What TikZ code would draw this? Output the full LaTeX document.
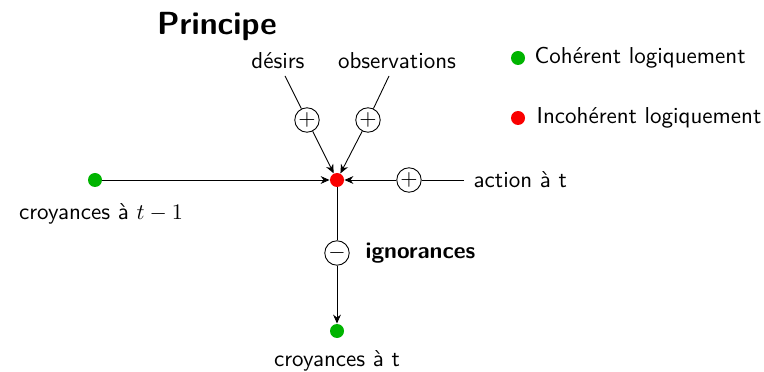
\documentclass[tikz,border=0pt]{standalone}
\usetikzlibrary{arrows.meta}
\definecolor{cgreen}{RGB}{0,180,0}
\definecolor{cred}{RGB}{250,0,0}
\begin{document}
\begin{tikzpicture}[x=0.45pt,y=-0.45pt,font=\sffamily\fontsize{10.35}{12}\selectfont,
  dot/.style={circle,inner sep=0pt,minimum size=6.3pt},
  gdot/.style={dot,fill=cgreen},
  rdot/.style={dot,fill=cred},
  sign/.style={circle,draw,inner sep=0pt,minimum size=11pt,font=\normalfont},
  arr/.style={-{Stealth[length=4pt,width=3.5pt]}},
  lbl/.style={inner sep=1pt}]
\useasboundingbox (0,0) rectangle (764,372);
\node[font=\sffamily\bfseries\Large] (title) at (217,27) {Principe};
\node[rdot] (r) at (337,180) {};
\node[gdot] (g1) at (95,180) {};
\node[gdot] (g2) at (337,331) {};
\node[sign] (pd) at (307,120) {$+$};
\node[sign] (po) at (368,120) {$+$};
\node[sign] (pa) at (409,180) {$+$};
\node[sign] (mi) at (337,253) {$-$};
\node[lbl] (des) at (278,61) {désirs};
\node[lbl] (obs) at (397,61) {observations};
\node[lbl,anchor=west] (act) at (471,180) {action à t};
\node[lbl] (c1) at (101,214) {croyances à $t-1$};
\node[lbl] (c2) at (337,361) {croyances à t};
\node[lbl,anchor=west,font=\sffamily\bfseries\fontsize{10.35}{12}\selectfont] (ign) at (363,253) {ignorances};
\coordinate (dtop) at (285,76);
\coordinate (otop) at (389,76);
\coordinate (aend) at (464,180);
\draw (dtop) -- (pd);
\draw[arr] (pd) -- (r);
\draw (otop) -- (po);
\draw[arr] (po) -- (r);
\draw (aend) -- (pa);
\draw[arr] (pa) -- (r);
\draw[arr] (g1) -- (r);
\draw (r) -- (mi);
\draw[arr] (mi) -- (g2);
\node[gdot] (lg) at (518,58) {};
\node[lbl,anchor=west] (lgt) at (532,58) {Cohérent logiquement};
\node[rdot] (lr) at (518,118) {};
\node[lbl,anchor=west] (lrt) at (534,118) {Incohérent logiquement};
\end{tikzpicture}
\end{document}
